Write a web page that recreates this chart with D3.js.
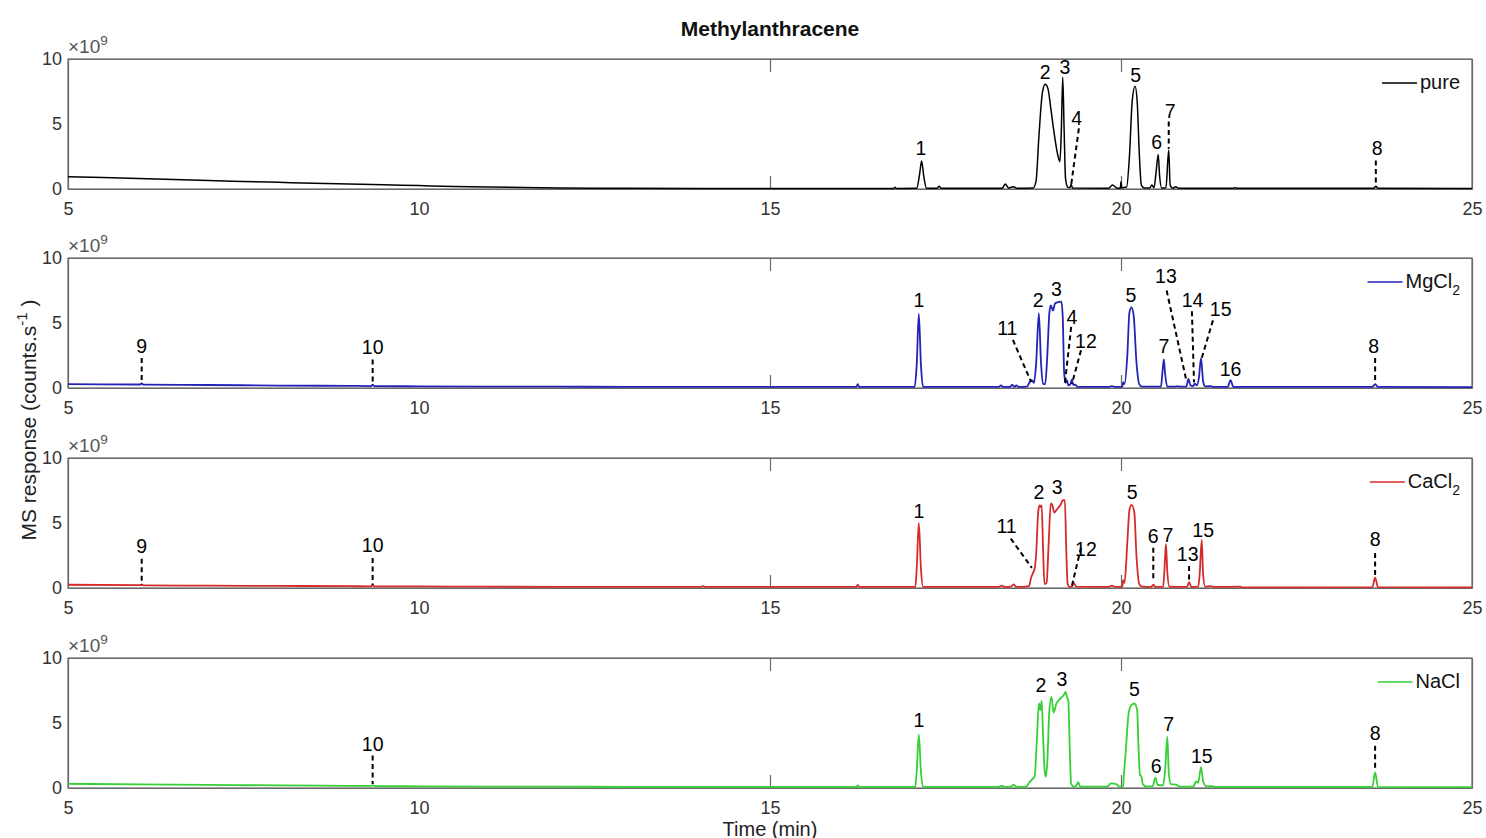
<!DOCTYPE html>
<html><head><meta charset="utf-8">
<script src="https://cdn.jsdelivr.net/npm/d3@7"></script>
<style>
body{margin:0;background:#fff}
svg{display:block}
text{font-family:"Liberation Sans",Arial,Helvetica,sans-serif}
</style>
</head><body><svg id="chart" width="1486" height="838"></svg>
<script>
// ---------------- data ----------------
const timeTicks = [5, 10, 15, 20, 25];
const responseTicks = [0, 5, 10];
const sampleNames = ["pure", "MgCl2", "CaCl2", "NaCl"];

// [time (min), response (x1e9 counts/s)]
const pureTrace = [[5,0.95],[5.5,0.88],[6,0.8],[6.5,0.73],[7,0.65],[7.5,0.58],[8,0.51],[8.5,0.44],[9,0.38],[9.5,0.32],[10,0.26],[10.5,0.2],[11,0.15],[11.5,0.11],[12,0.08],[12.5,0.06],[13,0.05],[14,0.04],[15,0.04],[16,0.04],[16.76,0.04],[16.78,0.13],[16.8,0.04],
[17.09,0.05],[17.13,1.1],[17.16,2.15],[17.19,1.0],[17.23,0.05],
[17.38,0.05],[17.41,0.22],[17.44,0.05],
[18.31,0.06],[18.35,0.38],[18.4,0.08],[18.47,0.18],[18.51,0.06],
[18.75,0.08],[18.79,0.6],[18.83,4.0],[18.88,7.4],[18.92,8.05],[18.96,7.7],[19.0,6.2],[19.05,4.2],[19.1,2.6],[19.13,2.1],[19.15,4.5],[19.17,8.6],[19.19,4.5],[19.21,0.8],[19.24,0.15],[19.27,0.1],[19.29,0.35],[19.31,0.08],
[19.82,0.06],[19.88,0.3],[19.94,0.08],[19.99,0.06],[20.0,0.55],[20.01,0.1],[20.08,0.15],[20.12,2.5],[20.16,6.8],[20.2,7.9],[20.23,6.8],[20.26,2.8],[20.29,0.3],[20.33,0.08],
[20.41,0.08],[20.44,0.3],[20.47,0.1],[20.5,1.3],[20.53,2.65],[20.55,1.0],[20.58,0.08],[20.64,0.1],[20.68,3.0],[20.7,0.3],[20.74,0.06],[20.78,0.18],[20.82,0.05],
[21.6,0.05],[21.62,0.1],[21.66,0.05],[23.6,0.05],[23.63,0.22],[23.66,0.05],[25,0.04]];

const mgcl2Trace = [[5,0.3],[5.5,0.28],[6,0.27],[6.03,0.27],[6.05,0.36],[6.07,0.26],[7,0.23],[8,0.19],[9,0.16],[9.32,0.15],[9.34,0.26],[9.36,0.15],[10,0.13],[11,0.11],[12,0.1],[13,0.09],[14,0.09],[15,0.08],[16,0.08],[16.23,0.08],[16.25,0.3],[16.27,0.08],
[17.06,0.08],[17.09,1.8],[17.12,5.7],[17.15,1.8],[17.18,0.08],
[18.26,0.08],[18.29,0.2],[18.32,0.08],[18.42,0.08],[18.45,0.25],[18.48,0.08],[18.51,0.2],[18.54,0.08],
[18.66,0.1],[18.7,0.45],[18.73,0.6],[18.76,0.4],[18.79,1.8],[18.83,5.75],[18.86,2.0],[18.89,0.3],[18.92,0.3],[18.95,2.5],[18.98,5.8],[19.0,6.35],[19.03,5.95],[19.06,6.5],[19.1,6.6],[19.15,6.65],[19.17,5.5],[19.19,1.2],[19.21,0.4],[19.23,0.6],[19.25,0.2],[19.28,0.3],[19.3,0.65],[19.32,0.25],[19.35,0.25],[19.38,0.08],
[19.82,0.08],[19.87,0.15],[19.92,0.08],[20.02,0.1],[20.03,0.45],[20.05,0.3],[20.09,2.5],[20.12,5.8],[20.15,6.2],[20.18,5.6],[20.22,2.0],[20.26,0.3],[20.3,0.1],
[20.57,0.1],[20.59,1.2],[20.61,2.2],[20.63,1.0],[20.66,0.1],[20.78,0.1],[20.8,0.15],[20.83,0.1],
[20.93,0.1],[20.96,0.7],[20.99,0.2],[21.03,0.15],[21.05,0.35],[21.08,0.2],[21.11,0.8],[21.14,2.3],[21.17,0.5],[21.2,0.12],[21.28,0.15],[21.31,0.08],
[21.52,0.08],[21.56,0.6],[21.6,0.08],[23.58,0.08],[23.62,0.3],[23.66,0.08],[25,0.06]];

const cacl2Trace = [[5,0.25],[6,0.22],[6.03,0.22],[6.05,0.28],[6.07,0.2],[7,0.18],[8,0.16],[9,0.14],[9.32,0.13],[9.34,0.25],[9.36,0.13],[10,0.12],[11,0.1],[12,0.09],[13,0.08],[14,0.08],[14.05,0.15],[14.08,0.08],[15,0.08],[16,0.08],[16.23,0.08],[16.25,0.25],[16.27,0.08],
[17.07,0.08],[17.09,1.5],[17.12,5.0],[17.15,1.5],[17.18,0.08],
[18.26,0.08],[18.3,0.18],[18.34,0.08],[18.43,0.1],[18.47,0.28],[18.5,0.12],[18.53,0.08],
[18.69,0.15],[18.72,0.8],[18.75,1.2],[18.77,1.5],[18.79,2.5],[18.82,5.8],[18.84,6.35],[18.86,6.2],[18.87,6.35],[18.89,3.0],[18.91,0.3],[18.94,0.4],[18.97,3.5],[19.0,6.5],[19.02,6.4],[19.05,5.8],[19.08,6.0],[19.11,6.2],[19.14,6.4],[19.17,6.75],[19.2,6.75],[19.22,3.0],[19.24,0.3],[19.27,0.08],
[19.3,0.1],[19.33,0.4],[19.36,0.1],
[19.82,0.08],[19.87,0.18],[19.92,0.08],[20.02,0.1],[20.03,0.6],[20.05,0.4],[20.09,3.5],[20.12,6.0],[20.15,6.4],[20.19,5.8],[20.22,2.5],[20.26,0.3],[20.3,0.1],
[20.43,0.08],[20.46,0.25],[20.49,0.08],[20.6,0.1],[20.62,1.5],[20.64,3.4],[20.66,1.2],[20.69,0.1],
[20.94,0.08],[20.97,0.45],[21.0,0.08],[21.1,0.1],[21.12,1.0],[21.15,3.7],[21.17,1.0],[21.2,0.1],[21.28,0.15],[21.32,0.08],[21.7,0.1],[21.73,0.05],
[23.58,0.06],[23.62,0.8],[23.66,0.06],[25,0.05]];

const naclTrace = [[5,0.32],[6,0.28],[7,0.24],[8,0.2],[9,0.17],[9.32,0.16],[9.34,0.22],[9.36,0.15],[10,0.13],[11,0.11],[12,0.1],[13,0.09],[14,0.09],[15,0.08],[16,0.08],[16.23,0.08],[16.25,0.2],[16.27,0.08],
[17.07,0.08],[17.09,1.3],[17.12,4.1],[17.15,1.3],[17.18,0.08],
[18.26,0.08],[18.3,0.18],[18.34,0.08],[18.43,0.1],[18.47,0.25],[18.51,0.08],
[18.65,0.1],[18.69,0.4],[18.74,0.7],[18.77,0.9],[18.8,3.5],[18.83,6.5],[18.85,6.0],[18.87,6.7],[18.89,4.0],[18.91,1.5],[18.93,0.85],[18.95,2.0],[18.98,6.0],[19.01,7.0],[19.04,5.8],[19.08,6.5],[19.12,6.8],[19.16,7.0],[19.19,7.2],[19.21,7.4],[19.23,7.0],[19.25,6.7],[19.27,3.0],[19.29,0.3],[19.33,0.1],[19.36,0.15],[19.39,0.45],[19.42,0.1],
[19.8,0.1],[19.86,0.35],[19.93,0.3],[19.98,0.1],[20.03,0.15],[20.04,0.9],[20.07,3.0],[20.11,5.8],[20.15,6.4],[20.19,6.5],[20.23,6.0],[20.25,3.0],[20.27,1.0],[20.29,0.9],[20.31,0.3],[20.36,0.12],
[20.45,0.12],[20.49,0.8],[20.52,0.25],[20.6,0.2],[20.63,1.5],[20.66,3.95],[20.68,1.2],[20.71,0.3],[20.79,0.25],[20.83,0.1],
[21.03,0.1],[21.07,0.5],[21.1,0.4],[21.14,1.6],[21.17,0.5],[21.22,0.12],[21.3,0.15],[21.34,0.08],
[23.58,0.08],[23.62,1.2],[23.66,0.08],[25,0.06]];

// peak labels: [text, time, response]
const pureLabels = [["1",17.15,3.15],["2",18.92,9.0],["3",19.2,9.4],["4",19.37,5.5],["5",20.21,8.8],["6",20.51,3.6],["7",20.7,6.0],["8",23.65,3.15]];
const mgcl2Labels = [["9",6.05,3.2],["10",9.34,3.15],["1",17.12,6.75],["11",18.38,4.6],["2",18.82,6.75],["3",19.08,7.6],["4",19.3,5.5],["12",19.5,3.6],["5",20.14,7.15],["13",20.64,8.6],["14",21.02,6.8],["15",21.42,6.1],["7",20.61,3.2],["16",21.56,1.5],["8",23.6,3.2]];
const cacl2Labels = [["9",6.05,3.2],["10",9.34,3.3],["1",17.12,5.95],["11",18.37,4.75],["2",18.83,7.4],["3",19.09,7.8],["12",19.5,3.0],["5",20.16,7.4],["6",20.46,4.0],["7",20.67,4.1],["13",20.95,2.65],["15",21.17,4.45],["8",23.62,3.8]];
const naclLabels = [["10",9.34,3.4],["1",17.12,5.2],["2",18.86,7.9],["3",19.16,8.35],["5",20.19,7.65],["6",20.5,1.7],["7",20.68,4.95],["15",21.15,2.5],["8",23.62,4.25]];

// dashed leaders: [time1, resp1, time2, resp2]
const pureLeaders = [[19.4,4.66,19.29,0.31],[20.68,5.2,20.68,3.1],[23.63,2.2,23.63,0.25]];
const mgcl2Leaders = [[6.05,2.3,6.05,0.3],[9.34,2.2,9.34,0.3],[18.46,3.7,18.72,0.46],[19.29,4.7,19.2,0.3],[19.43,2.9,19.3,0.3],[20.65,7.5,20.93,0.6],[21.01,5.9,21.04,0.45],[21.31,5.2,21.15,2.3],[23.62,2.3,23.62,0.4]];
const cacl2Leaders = [[6.05,2.25,6.05,0.25],[9.34,2.3,9.34,0.25],[18.43,3.8,18.73,1.55],[19.43,3.1,19.3,0.15],[20.46,3.1,20.46,0.55],[20.97,1.7,20.97,0.55],[23.62,2.7,23.62,0.85]];
const naclLeaders = [[9.34,2.5,9.34,0.3],[23.62,3.25,23.62,1.3]];

// ---------------- drawing ----------------
const traces = [pureTrace, mgcl2Trace, cacl2Trace, naclTrace];
const labelSets = [pureLabels, mgcl2Labels, cacl2Labels, naclLabels];
const leaderSets = [pureLeaders, mgcl2Leaders, cacl2Leaders, naclLeaders];
const colors = ["#000000", "#2323b8", "#d62a2a", "#35d035"];

const svg = d3.select("#chart");
const W = 1486;
const left = 68, right = 1472;
const panelTops = [59, 258, 458, 658];
const panelH = 130;
const axisGray = "#6a6a6a";
const textGray = "#333333";

const x = d3.scaleLinear().domain([5, 25]).range([left, right]);

svg.append("rect").attr("width", W).attr("height", 838).attr("fill", "#fff");

svg.append("text").attr("x", 770).attr("y", 36).attr("text-anchor", "middle")
  .attr("font-size", 21).attr("font-weight", "bold").attr("fill", "#111").text("Methylanthracene");

traces.forEach((trace, i) => {
  const top = panelTops[i], bottom = top + panelH;
  const y = d3.scaleLinear().domain([0, 10]).range([bottom, top]);
  const g = svg.append("g");

  // bottom axis
  g.append("g").attr("transform", `translate(0,${bottom})`)
    .call(d3.axisBottom(x).tickValues(timeTicks).tickSizeInner(-13).tickSizeOuter(0).tickPadding(13));
  // top axis (ticks only)
  g.append("g").attr("transform", `translate(0,${top})`)
    .call(d3.axisTop(x).tickValues(timeTicks).tickSizeInner(-13).tickSizeOuter(0).tickFormat(""));
  // left axis
  g.append("g").attr("transform", `translate(${left},0)`)
    .call(d3.axisLeft(y).tickValues(responseTicks).tickSizeInner(-13).tickSizeOuter(0).tickPadding(6));
  // right axis
  g.append("g").attr("transform", `translate(${right},0)`)
    .call(d3.axisRight(y).tickValues(responseTicks).tickSizeInner(-13).tickSizeOuter(0).tickFormat(""));

  g.selectAll(".domain").attr("stroke", axisGray).attr("stroke-width", 1.2);
  g.selectAll(".tick line").attr("stroke", axisGray).attr("stroke-width", 1.2);
  g.selectAll(".tick text").attr("fill", textGray).attr("font-size", 18)
    .attr("font-family", "'Liberation Sans', Arial, sans-serif");
  // hide tick lines that coincide with the frame
  g.selectAll(".tick").filter(d => d === 5 || d === 25 || d === 0 || d === 10).select("line").attr("stroke", "none");

  // frame (box)
  g.append("rect").attr("x", left).attr("y", top).attr("width", right - left).attr("height", panelH)
    .attr("fill", "none").attr("stroke", axisGray).attr("stroke-width", 1.2);

  // exponent label
  const ex = g.append("text").attr("x", 68).attr("y", top - 6).attr("fill", "#555").attr("font-size", 19);
  ex.append("tspan").text("\u00d710");
  ex.append("tspan").attr("dy", -8).attr("font-size", 13.5).text("9");

  // trace
  const line = d3.line().x(d => x(d[0])).y(d => y(d[1])).curve(d3.curveMonotoneX);
  g.append("path").datum(trace).attr("d", line).attr("fill", "none")
    .attr("stroke", colors[i]).attr("stroke-width", i === 0 ? 1.5 : 1.8).attr("stroke-linejoin", "round");

  // leaders
  g.selectAll(".leader").data(leaderSets[i]).enter().append("line")
    .attr("x1", d => x(d[0])).attr("y1", d => y(d[1]))
    .attr("x2", d => x(d[2])).attr("y2", d => y(d[3]))
    .attr("stroke", "#000").attr("stroke-width", 2).attr("stroke-dasharray", "5,3.5");

  // peak labels
  g.selectAll(".plabel").data(labelSets[i]).enter().append("text")
    .attr("x", d => x(d[1])).attr("y", d => y(d[2]) + 7)
    .attr("text-anchor", "middle").attr("font-size", 19.5).attr("fill", "#000")
    .text(d => d[0]);

  // legend
  const name = sampleNames[i];
  const m = name.match(/^([A-Za-z]+?)(\d*)$/);
  const lg = g.append("text").attr("x", 1460).attr("y", top + 30).attr("text-anchor", "end")
    .attr("font-size", 20).attr("fill", "#111");
  lg.append("tspan").text(m[1]);
  if (m[2]) lg.append("tspan").attr("dy", 7).attr("font-size", 14).text(m[2]);
  const bb = lg.node().getBBox();
  g.append("line").attr("x1", bb.x - 38).attr("x2", bb.x - 3)
    .attr("y1", top + 24).attr("y2", top + 24)
    .attr("stroke", colors[i]).attr("stroke-width", 1.5);
});

// axis titles
svg.append("text").attr("x", 770).attr("y", 835.5).attr("text-anchor", "middle")
  .attr("font-size", 20).attr("fill", "#222").text("Time (min)");
const yl = svg.append("text").attr("transform", "translate(36,420) rotate(-90)")
  .attr("text-anchor", "middle").attr("font-size", 21).attr("fill", "#222");
yl.append("tspan").text("MS response (counts.s");
yl.append("tspan").attr("dy", -9).attr("font-size", 15).text("-1");
yl.append("tspan").attr("dy", 9).text(" )");
</script>
</body></html>
